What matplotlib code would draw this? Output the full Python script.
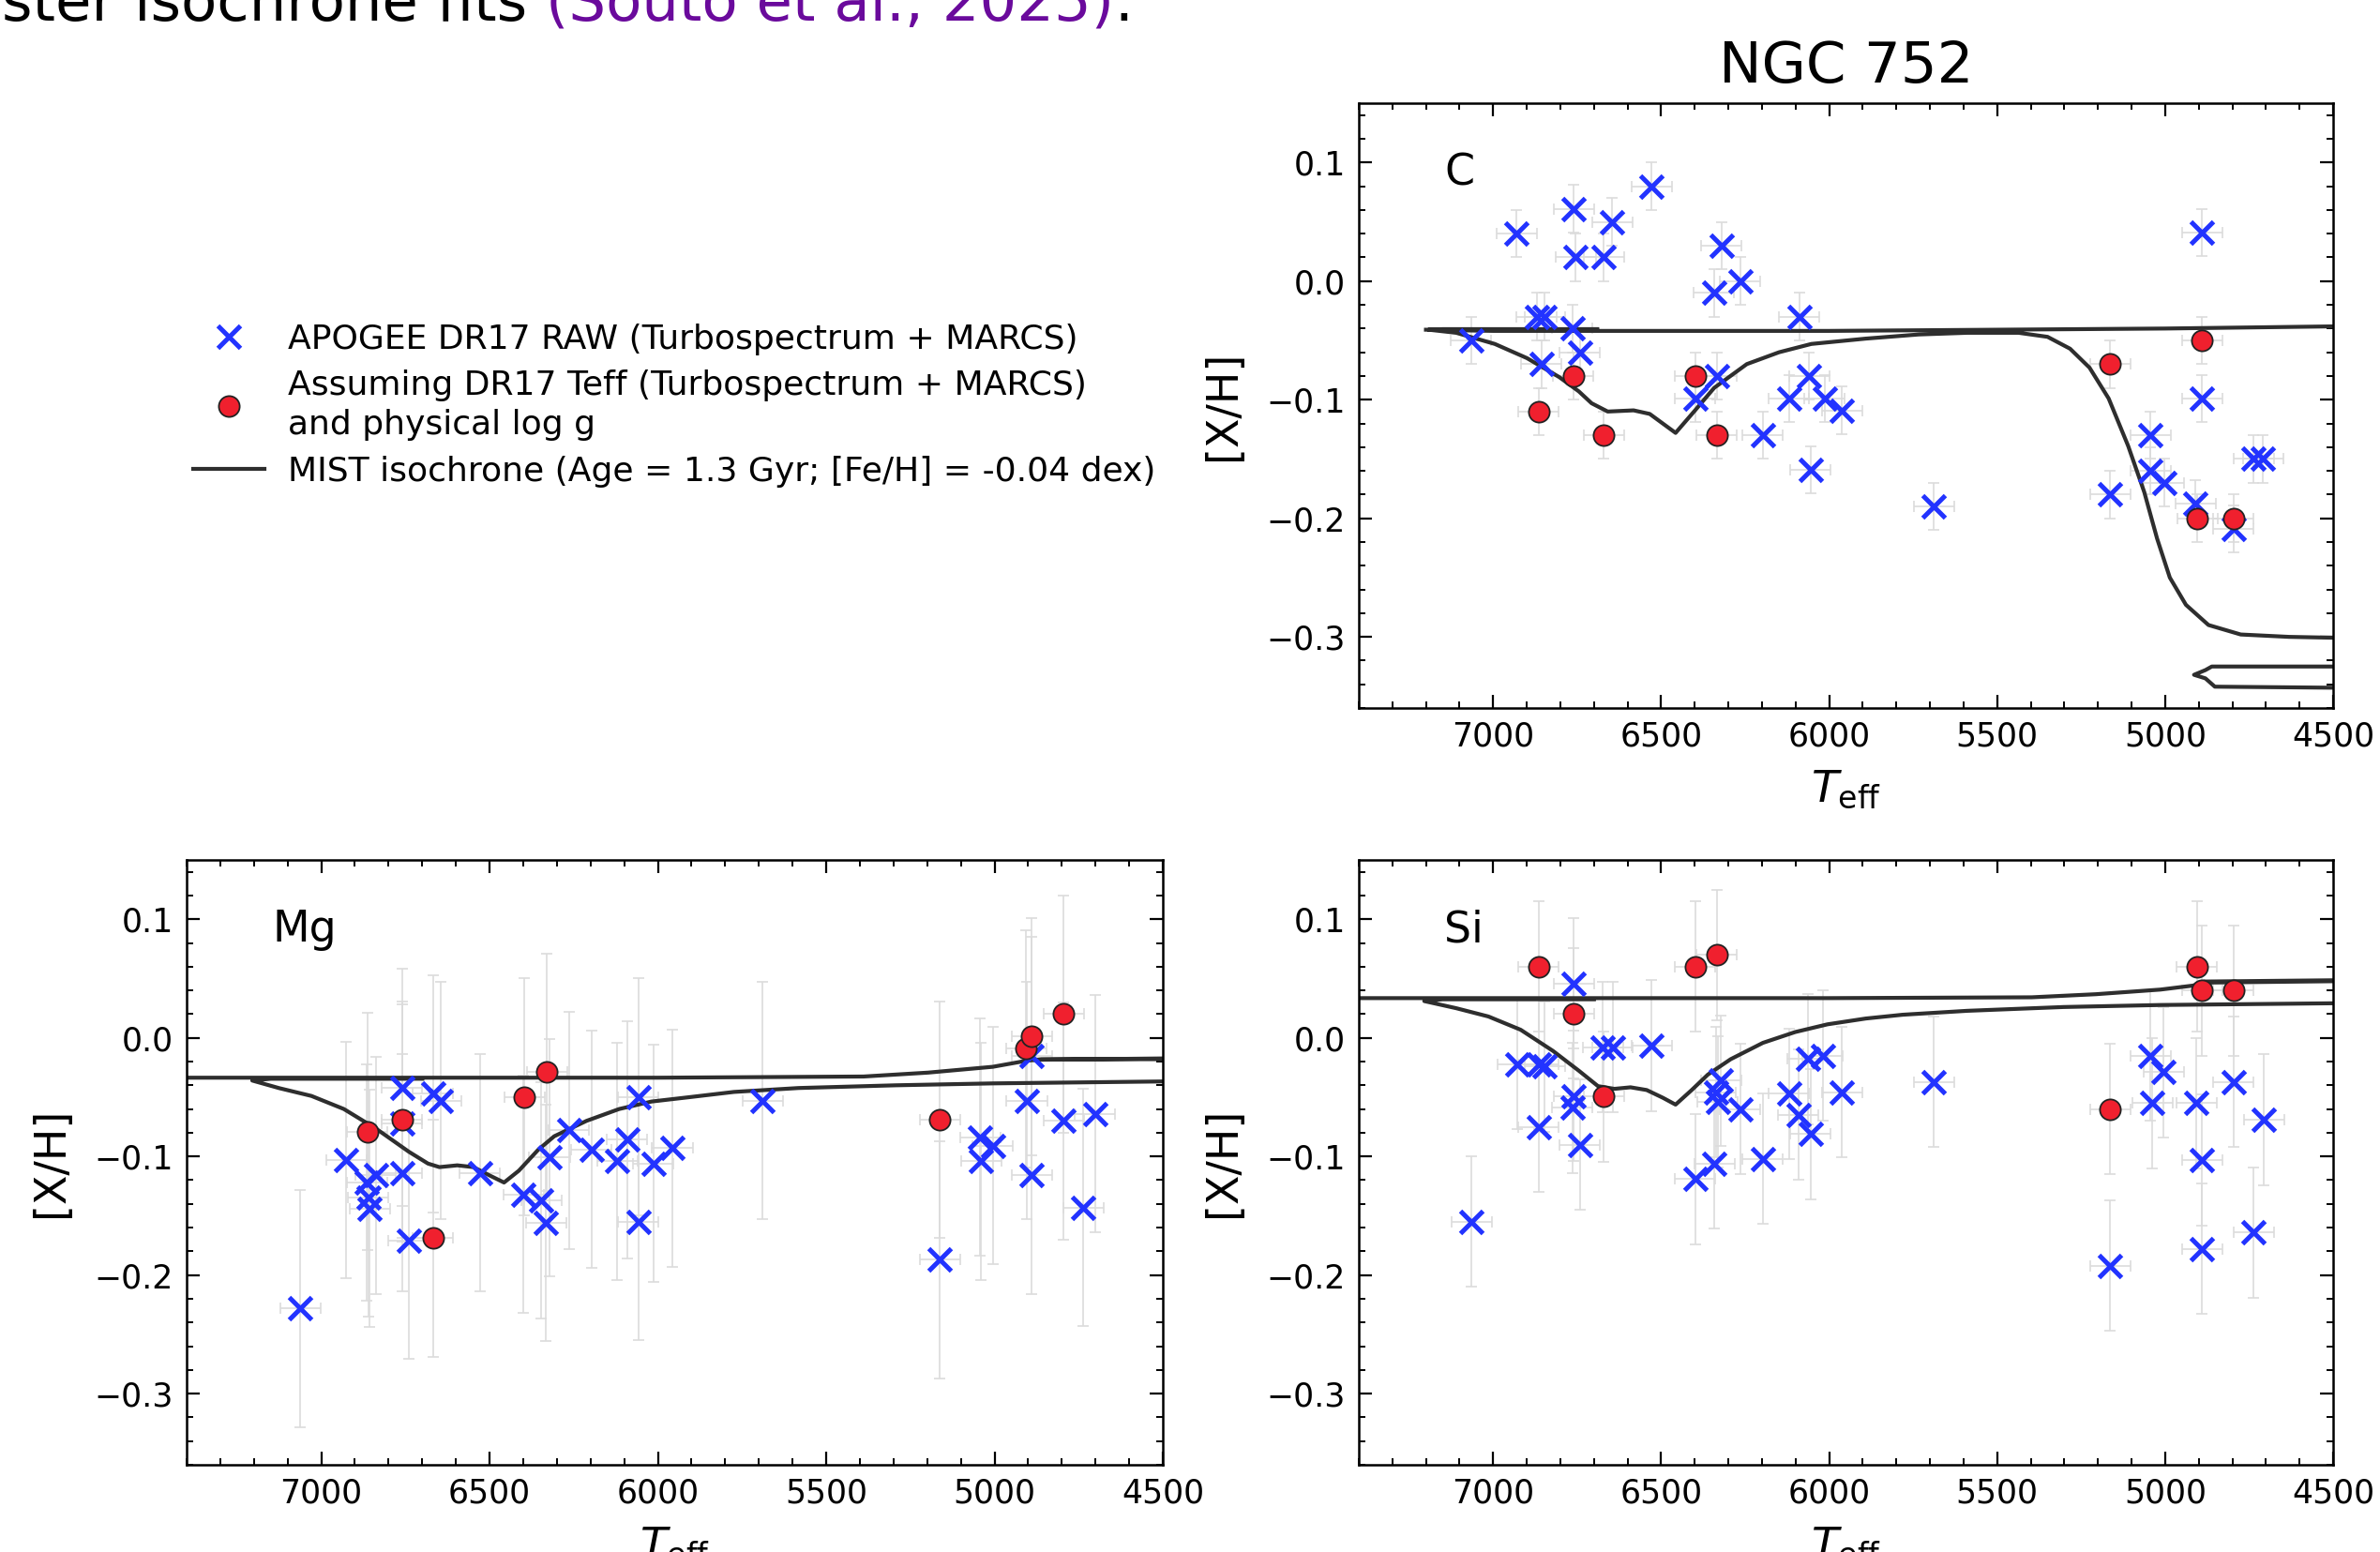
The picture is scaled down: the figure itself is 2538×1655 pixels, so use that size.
import numpy as np
import matplotlib.pyplot as plt
from matplotlib.lines import Line2D
from matplotlib.ticker import MultipleLocator

# ---- APOGEE DR17 raw abundances (Teff, [X/H]) ----
c_teff = [7065, 6930, 6870, 6846, 6856, 6760, 6755, 6764, 6742, 6646, 6671, 6529,
          6320, 6343, 6264, 6334, 6399, 6089, 6060, 6120, 6014, 5962, 6197, 6055,
          5688, 5163, 5043, 5043, 5003, 4909, 4890, 4890, 4736, 4708, 4796]
c_xh = [-0.050, 0.040, -0.030, -0.030, -0.070, 0.061, 0.020, -0.040, -0.060, 0.050, 0.020, 0.080,
        0.030, -0.010, 0.000, -0.080, -0.099, -0.030, -0.080, -0.099, -0.099, -0.109, -0.130, -0.159,
        -0.190, -0.180, -0.130, -0.160, -0.170, -0.188, 0.041, -0.099, -0.150, -0.150, -0.209]

mg_teff = [7062, 6926, 6865, 6838, 6860, 6856, 6760, 6760, 6760, 6740, 6668, 6644,
           6529, 6399, 6346, 6332, 6322, 6264, 6197, 6120, 6092, 6058, 6058, 6014,
           5957, 5689, 5163, 5043, 5005, 5040, 4904, 4889, 4889, 4795, 4736, 4702]
mg_xh = [-0.228, -0.103, -0.122, -0.116, -0.135, -0.144, -0.042, -0.072, -0.114, -0.171, -0.047, -0.053,
         -0.114, -0.132, -0.137, -0.156, -0.101, -0.078, -0.094, -0.104, -0.086, -0.050, -0.155, -0.106,
         -0.093, -0.053, -0.187, -0.084, -0.091, -0.104, -0.053, -0.116, -0.015, -0.070, -0.143, -0.064]

si_teff = [7064, 6928, 6865, 6846, 6865, 6760, 6760, 6764, 6742, 6673, 6644, 6529,
           6399, 6341, 6322, 6337, 6332, 6264, 6197, 6120, 6091, 6055, 6063, 6019,
           5962, 5688, 5163, 5043, 5005, 5038, 4907, 4890, 4890, 4796, 4736, 4706]
si_xh = [-0.155, -0.022, -0.022, -0.024, -0.075, 0.046, -0.049, -0.059, -0.090, -0.008, -0.008, -0.0065,
         -0.119, -0.106, -0.036, -0.046, -0.054, -0.060, -0.102, -0.047, -0.065, -0.081, -0.018, -0.015,
         -0.046, -0.037, -0.192, -0.015, -0.029, -0.055, -0.055, -0.103, -0.178, -0.037, -0.164, -0.069]

# ---- DR17 Teff + physical log g reanalysis ----
c_teff_phys = [6762, 6865, 6670, 6399, 6334, 5163, 4890, 4904, 4796]
c_xh_phys = [-0.080, -0.110, -0.130, -0.080, -0.130, -0.070, -0.050, -0.200, -0.200]
mg_teff_phys = [6863, 6760, 6668, 6396, 6330, 5163, 4906, 4889, 4795]
mg_xh_phys = [-0.079, -0.069, -0.169, -0.050, -0.029, -0.069, -0.009, 0.001, 0.020]
si_teff_phys = [6865, 6760, 6671, 6399, 6334, 5163, 4905, 4890, 4796]
si_xh_phys = [0.060, 0.0205, -0.0495, 0.060, 0.070, -0.060, 0.060, 0.040, 0.040]

# typical uncertainties
teff_err = 60
c_err = 0.02
mg_err = 0.10
si_err = 0.055

# ---- MIST isochrone tracks (nan separates branches) ----
nan = np.nan
iso_c_teff = [4450, 5000, 5500, 6000, 6500, 7000, 7200, nan,
              6690, 7150, 7192, 7110, 6995, 6899, 6803, 6745, 6707, 6659, 6582, 6534, 6457,
              6399, 6342, 6245, 6149, 6053, 5891, 5733, 5589, 5436, 5350, 5283, 5225, 5168,
              5110, 5062, 5024, 4986, 4938, 4871, 4775, 4631, 4450, nan,
              4450, 4861, 4880, 4914, 4880, 4852, 4450]
iso_c_xh = [-0.038, -0.040, -0.041, -0.042, -0.042, -0.042, -0.041, nan,
            -0.0405, -0.0405, -0.041, -0.0436, -0.053, -0.065, -0.081, -0.093, -0.103, -0.110, -0.109, -0.112, -0.128,
            -0.109, -0.090, -0.070, -0.060, -0.053, -0.0485, -0.045, -0.0436, -0.0436, -0.047, -0.057, -0.073, -0.099,
            -0.139, -0.178, -0.217, -0.250, -0.273, -0.290, -0.298, -0.300, -0.301, nan,
            -0.325, -0.325, -0.328, -0.332, -0.335, -0.342, -0.343]

iso_mg_teff = [4450, 4861, 4909, 5005, 5197, 5389, 6000, 7000, 7600, nan,
               6700, 7150, 7205, 7125, 7029, 6933, 6837, 6740, 6683, 6649, 6596, 6548, 6500,
               6457, 6413, 6356, 6308, 6212, 6115, 6019, 5906, 5774, 5582, 5293, 5005, 4450, nan,
               4450, 4880]
iso_mg_xh = [-0.018, -0.018, -0.0195, -0.0244, -0.0293, -0.0326, -0.0336, -0.0336, -0.0336, nan,
             -0.0345, -0.0345, -0.036, -0.0424, -0.049, -0.060, -0.0766, -0.096, -0.106, -0.109, -0.1075, -0.109, -0.116,
             -0.122, -0.112, -0.0945, -0.083, -0.070, -0.060, -0.0537, -0.050, -0.0456, -0.0423, -0.040, -0.0384, -0.0366, nan,
             -0.0172, -0.0185]

iso_si_teff = [4450, 4871, 4919, 5014, 5206, 5397, 6000, 7000, 7600, nan,
               6700, 7150, 7205, 7110, 7014, 6918, 6822, 6745, 6688, 6639, 6591, 6543, 6495,
               6457, 6409, 6361, 6293, 6197, 6101, 6005, 5891, 5781, 5589, 5302, 5014, 4450, nan,
               4450, 4880]
iso_si_xh = [0.0479, 0.0466, 0.044, 0.0407, 0.0368, 0.0342, 0.0335, 0.0335, 0.0335, nan,
             0.0325, 0.0325, 0.031, 0.025, 0.018, 0.0068, -0.011, -0.0277, -0.0407, -0.043, -0.0417, -0.044, -0.0505,
             -0.0563, -0.044, -0.031, -0.018, -0.0042, 0.0049, 0.0114, 0.0163, 0.0195, 0.0228, 0.026, 0.0277, 0.0293, nan,
             0.0487, 0.0475]

blue = '#2233ff'
red = '#f0202e'
iso_color = '#2e2e2e'

fig = plt.figure(figsize=(25.38, 16.55), dpi=100)
ax_c = fig.add_axes([0.5709, 0.5438, 0.4094, 0.3897])
ax_mg = fig.add_axes([0.0784, 0.0562, 0.4102, 0.3897])
ax_si = fig.add_axes([0.5709, 0.0562, 0.4094, 0.3897])

panels = [
    (ax_c, 'C', c_teff, c_xh, c_teff_phys, c_xh_phys, c_err, iso_c_teff, iso_c_xh),
    (ax_mg, 'Mg', mg_teff, mg_xh, mg_teff_phys, mg_xh_phys, mg_err, iso_mg_teff, iso_mg_xh),
    (ax_si, 'Si', si_teff, si_xh, si_teff_phys, si_xh_phys, si_err, iso_si_teff, iso_si_xh),
]

for ax, elem, t, x, tp, xp, err, it, ix in panels:
    ax.errorbar(t, x, xerr=teff_err, yerr=err, fmt='none', ecolor='0.86',
                elinewidth=1.2, capsize=4, capthick=1.2, zorder=1)
    ax.errorbar(tp, xp, xerr=teff_err, yerr=err, fmt='none', ecolor='0.86',
                elinewidth=1.2, capsize=4, capthick=1.2, zorder=1)
    ax.plot(it, ix, color=iso_color, lw=3.0, zorder=2)
    ax.plot(t, x, ls='none', marker='x', ms=17, mew=3.6, color=blue, zorder=3)
    ax.plot(tp, xp, ls='none', marker='o', ms=16, mfc=red, mec='#222222', mew=1.3, zorder=4)

    ax.set_xlim(7400, 4500)
    ax.set_ylim(-0.36, 0.15)
    ax.xaxis.set_major_locator(MultipleLocator(500))
    ax.xaxis.set_minor_locator(MultipleLocator(100))
    ax.yaxis.set_major_locator(MultipleLocator(0.1))
    ax.yaxis.set_minor_locator(MultipleLocator(0.02))
    ax.tick_params(which='both', direction='in', top=True, right=True, labelsize=25, pad=10)
    ax.tick_params(which='major', length=10, width=1.6)
    ax.tick_params(which='minor', length=5, width=1.4)
    for s in ax.spines.values():
        s.set_linewidth(1.8)

    ax.set_xlabel(r'$T_{\rm eff}$', fontsize=34, labelpad=12)
    ax.set_ylabel('[X/H]', fontsize=33, labelpad=17)
    ax.text(0.088, 0.884, elem, transform=ax.transAxes, fontsize=33, va='center', ha='left')

ax_c.set_title('NGC 752', fontsize=44, pad=16)

handles = [
    Line2D([], [], ls='none', marker='x', ms=17, mew=3.6, color=blue),
    Line2D([], [], ls='none', marker='o', ms=16, mfc=red, mec='#222222', mew=1.3),
    Line2D([], [], color=iso_color, lw=3.0),
]
labels = [
    'APOGEE DR17 RAW (Turbospectrum + MARCS)',
    'Assuming DR17 Teff (Turbospectrum + MARCS)\nand physical log g',
    'MIST isochrone (Age = 1.3 Gyr; [Fe/H] = -0.04 dex)',
]
leg = fig.legend(handles, labels, loc='upper left', bbox_to_anchor=(0.0812, 0.7917),
                 frameon=False, fontsize=26, handlelength=2.1, handletextpad=0.7,
                 borderpad=0, borderaxespad=0, labelspacing=0.43)
for txt in leg.get_texts():
    txt.set_linespacing(1.3)

# running sentence from the page, cut by the top edge
y_base = 1 - 22 / 1655
head = fig.text(0.0008, y_base, 'ster isochrone fits ', fontsize=45,
                color='black', va='baseline', ha='left')
fig.canvas.draw()
bb = head.get_window_extent()
cite = fig.text(bb.x1 / fig.bbox.width, y_base, '(Souto et al., 2025)',
                fontsize=45, color='#6a0a9c', va='baseline', ha='left')
fig.canvas.draw()
bb2 = cite.get_window_extent()
fig.text(bb2.x1 / fig.bbox.width, y_base, '.', fontsize=45,
         color='black', va='baseline', ha='left')

fig.savefig('out.png', dpi=100)
